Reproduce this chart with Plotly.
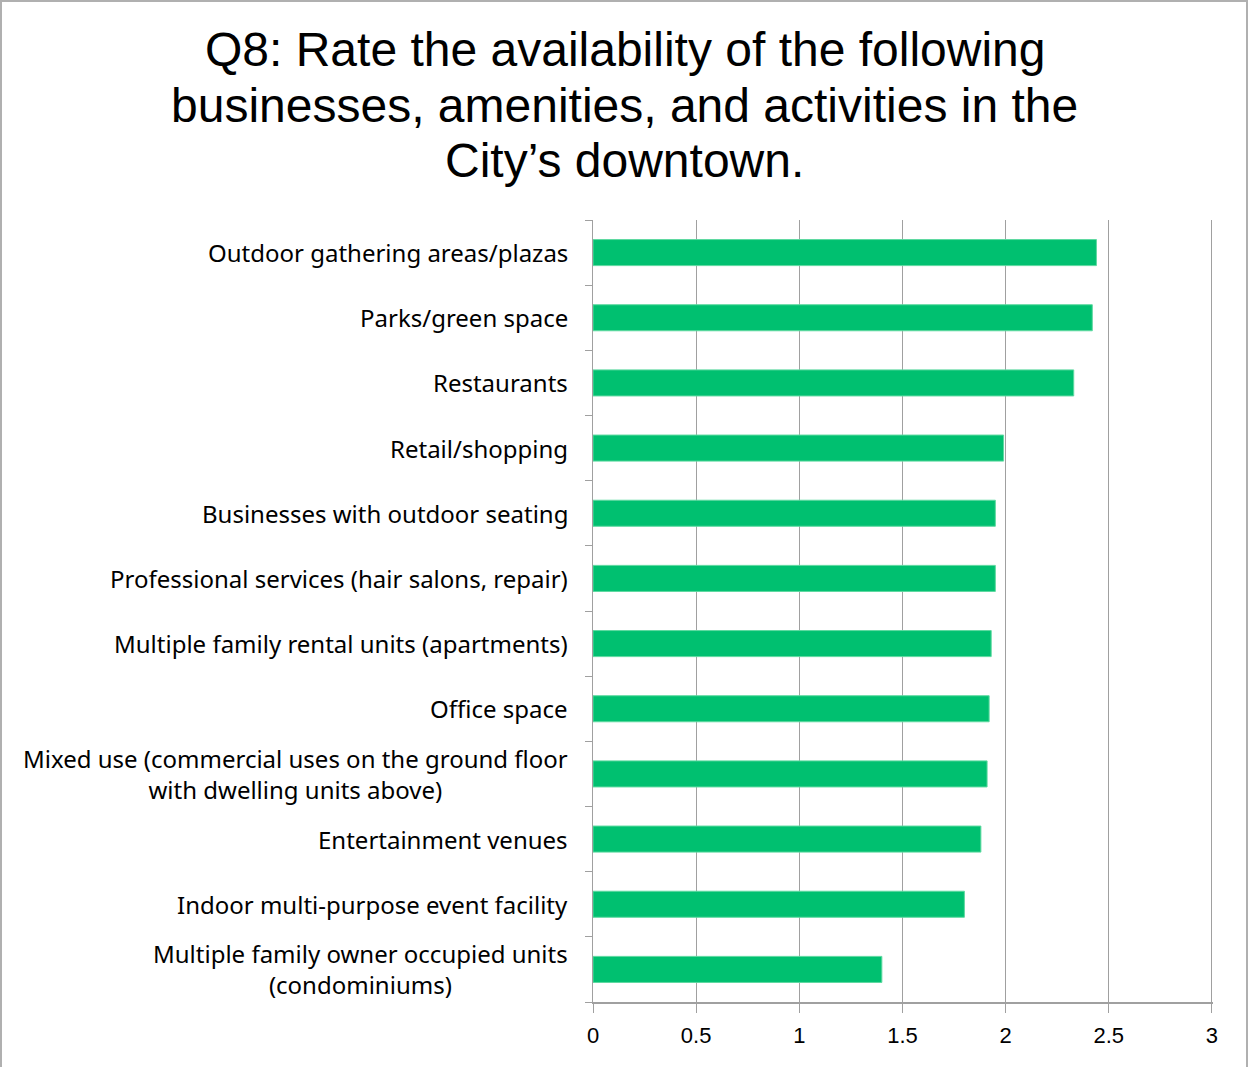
import plotly.graph_objects as go

categories = [
    "Outdoor gathering areas/plazas",
    "Parks/green space",
    "Restaurants",
    "Retail/shopping",
    "Businesses with outdoor seating",
    "Professional services (hair salons, repair)",
    "Multiple family rental units (apartments)",
    "Office space",
    "Mixed use (commercial uses on the ground floor<br>with dwelling units above)",
    "Entertainment venues",
    "Indoor multi-purpose event facility",
    "Multiple family owner occupied units<br>(condominiums)",
]
values = [2.44, 2.42, 2.33, 1.99, 1.95, 1.95, 1.93, 1.92, 1.91, 1.88, 1.80, 1.40]
title_lines = [
    "Q8: Rate the availability of the following",
    "businesses, amenities, and activities in the",
    "City\u2019s downtown.",
]
x_ticks = [0, 0.5, 1, 1.5, 2, 2.5, 3]

W, H = 1249, 1067
ML, MR, MT, MB = 593, 36, 220, 65
plot_h = H - MT - MB
plot_w = W - ML - MR

idx = list(range(len(categories)))

fig = go.Figure()
fig.add_trace(go.Bar(
    x=values, y=idx, orientation="h", width=0.4,
    marker=dict(color="#00C070", line=dict(color="#5ED9A0", width=1)),
    hoverinfo="x",
))

GRID = "#A0A0A0"
fig.update_layout(
    width=W, height=H,
    margin=dict(l=ML, r=MR, t=MT, b=MB, pad=0),
    paper_bgcolor="white", plot_bgcolor="white",
    showlegend=False,
    bargap=0.6,
    xaxis=dict(
        range=[0, 3.005], tickvals=x_ticks, ticktext=[f"{v:g}" for v in x_ticks],
        showgrid=True, gridcolor=GRID, gridwidth=1,
        showline=True, linecolor=GRID, linewidth=2,
        ticks="outside", ticklen=9, tickcolor=GRID, tickwidth=1,
        ticklabelstandoff=4,
        tickfont=dict(family="Liberation Sans Narrow, Liberation Sans, Arial", size=22, color="#000"),
        zeroline=False, fixedrange=True,
    ),
    yaxis=dict(
        range=[len(categories) - 0.5, -0.5],
        tickvals=[i - 0.5 for i in range(len(categories) + 1)],
        showticklabels=False, showgrid=False,
        showline=True, linecolor=GRID, linewidth=1,
        ticks="outside", ticklen=7, tickcolor=GRID, tickwidth=1,
        zeroline=False, fixedrange=True,
    ),
)

for i, c in enumerate(categories):
    fig.add_annotation(
        x=0, xref="paper", y=i, yref="y", text=c, showarrow=False,
        xanchor="right", yanchor="middle", xshift=-23, align="center",
        font=dict(family="Noto Sans, Lato, sans-serif", size=24, color="#000"),
    )

title_y = [50, 105, 160]
for t, yp in zip(title_lines, title_y):
    fig.add_annotation(
        x=(W / 2 - ML) / plot_w, xref="paper", y=(H - MB - yp) / plot_h, yref="paper",
        text=t, showarrow=False, xanchor="center", yanchor="middle",
        font=dict(family="Liberation Sans, Arial", size=48, color="#000"),
    )

# outer chart border
fig.add_shape(
    type="rect", xref="paper", yref="paper",
    x0=(1 - ML) / plot_w, x1=(W - 2 - ML) / plot_w,
    y0=(H - MB - (H + 5)) / plot_h, y1=(H - MB - 1) / plot_h,
    line=dict(color="#B0B0B0", width=2), fillcolor="rgba(0,0,0,0)", layer="below",
)

fig.write_html("out.html", post_script="document.body.style.margin='0';", config={"displayModeBar": False})
